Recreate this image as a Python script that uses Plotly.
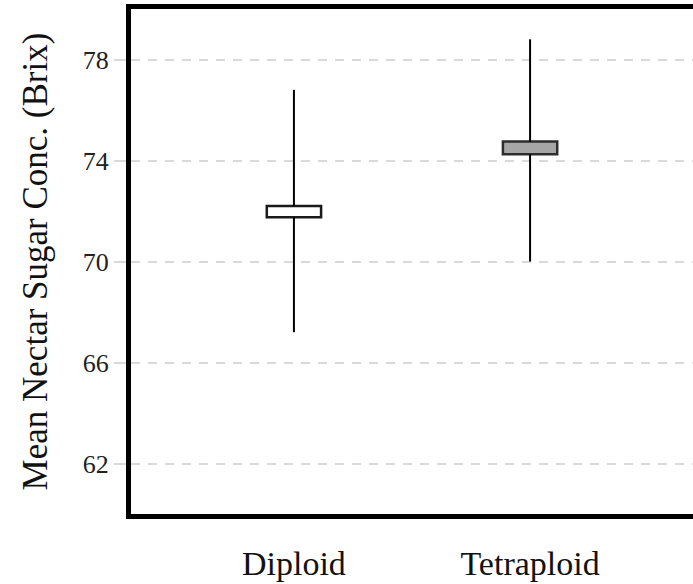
import plotly.graph_objects as go

# Nectar sugar concentration (Brix) by ploidy level
groups = ["Diploid", "Tetraploid"]
box_low = [71.75, 74.25]
box_high = [72.2, 74.75]
whisker_min = [67.2, 70.0]
whisker_max = [76.8, 78.8]
fill_colors = ["#ffffff", "#a6a6a6"]
edge_colors = ["#1a1a1a", "#2e2e2e"]
y_ticks = [62, 66, 70, 74, 78]

fig = go.Figure()

# Whiskers: from box edges out to the extremes
for g, lo, hi, mn, mx in zip(groups, box_low, box_high, whisker_min, whisker_max):
    fig.add_trace(go.Scatter(
        x=[g, g, None, g, g],
        y=[hi, mx, None, lo, mn],
        mode="lines",
        line=dict(color="#000000", width=2),
        hoverinfo="skip",
    ))

# Boxes drawn as floating bars
fig.add_trace(go.Bar(
    x=groups,
    y=[h - l for h, l in zip(box_high, box_low)],
    base=box_low,
    width=0.23,
    marker=dict(color=fill_colors, line=dict(color=edge_colors, width=2.5)),
))

serif = "Liberation Serif, Times New Roman, serif"

fig.update_layout(
    width=693,
    height=584,
    margin=dict(l=131, r=0, t=9, b=70),
    paper_bgcolor="white",
    plot_bgcolor="white",
    showlegend=False,
    font=dict(family=serif, color="#111111"),
    xaxis=dict(
        type="category",
        range=[-0.69, 1.69],
        showgrid=False,
        showline=True,
        linecolor="#000000",
        linewidth=5,
        mirror=True,
        ticks="outside",
        ticklen=15,
        tickcolor="rgba(0,0,0,0)",
        tickfont=dict(size=34, family=serif, color="#111111"),
        zeroline=False,
    ),
    yaxis=dict(
        range=[60, 80],
        tickvals=y_ticks,
        ticktext=[str(v) for v in y_ticks],
        showgrid=True,
        gridcolor="#d9d9d9",
        gridwidth=2,
        griddash="9px,8px",
        showline=True,
        linecolor="#000000",
        linewidth=5,
        ticks="outside",
        ticklen=12,
        tickwidth=2,
        tickcolor="#d9d9d9",
        tickfont=dict(size=26, family=serif, color="#222222"),
        zeroline=False,
        title=dict(
            text="Mean Nectar Sugar Conc. (Brix)",
            font=dict(size=35, family=serif, color="#111111"),
            standoff=26,
        ),
    ),
)

fig.write_html("out.html")
